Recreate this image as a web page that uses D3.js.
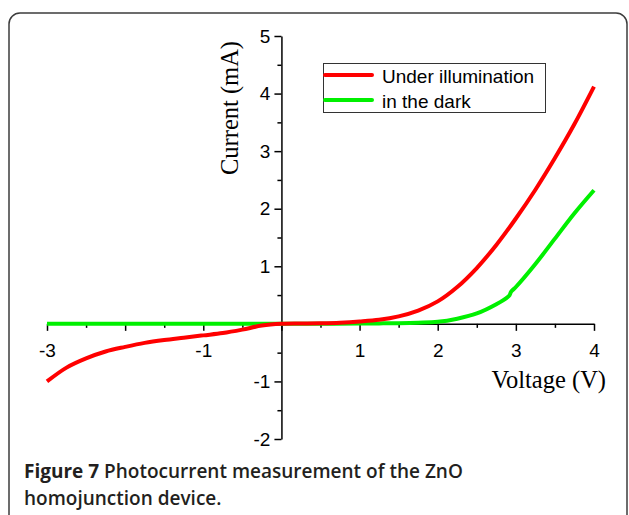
<!DOCTYPE html>
<html>
<head>
<meta charset="utf-8">
<script src="https://cdn.jsdelivr.net/npm/d3@7"></script>
<style>
  body { margin: 0; background: #fff; }
</style>
</head>
<body>
<div id="chart"></div>
<script>
// voltage points (V)
var voltage = [-3, -2.75, -2.5, -2.25, -2, -1.75, -1.5, -1.25, -1, -0.75, -0.5, -0.25, 0,
  0.25, 0.5, 0.75, 1, 1.25, 1.5, 1.75, 2, 2.25, 2.5, 2.75, 3, 3.25, 3.5, 3.75, 4];
// current under illumination (mA)
var currentLight = [-1.0, -0.76, -0.6, -0.48, -0.4, -0.33, -0.28, -0.24, -0.2, -0.16, -0.1, -0.03, 0,
  0.005, 0.01, 0.02, 0.04, 0.07, 0.13, 0.23, 0.39, 0.64, 0.97, 1.37, 1.83, 2.33, 2.88, 3.47, 4.12];
// dark current has a small kink near 2.9 V
var voltageDark = [-3, -2, -1, 0, 0.5, 1, 1.25, 1.5, 1.75, 2, 2.25, 2.5, 2.75, 2.9, 2.92, 2.94,
  3, 3.25, 3.5, 3.75, 4];
var currentDark = [0, 0, 0, 0, 0.002, 0.005, 0.008, 0.012, 0.02, 0.035, 0.09, 0.18, 0.34, 0.47, 0.5, 0.56,
  0.64, 1.04, 1.48, 1.92, 2.32];

var seriesNames = ["Under illumination", "in the dark"];
var xTickLabels = [-3, -1, 1, 2, 3, 4];
var yTickLabels = [-2, -1, 1, 2, 3, 4, 5];

var width = 629, height = 515;

var svg = d3.select("#chart")
  .append("svg")
  .attr("width", width)
  .attr("height", height);

// rounded figure frame (bottom runs off the page)
svg.append("rect")
  .attr("x", 9).attr("y", 13)
  .attr("width", 618).attr("height", 540)
  .attr("rx", 11)
  .attr("fill", "none")
  .attr("stroke", "#3c3c3c")
  .attr("stroke-width", 1.5);

var x = d3.scaleLinear().domain([-3, 4]).range([47, 594]);
var y = d3.scaleLinear().domain([-2, 5]).range([439, 36]);

var tickFont = "'Liberation Sans', Arial, sans-serif";

// X axis through y = 0
var xAxis = svg.append("g")
  .attr("transform", "translate(0," + y(0) + ")")
  .call(d3.axisBottom(x)
    .tickValues(d3.range(-3, 4.01, 0.5))
    .tickSize(7)
    .tickSizeOuter(0)
    .tickFormat(function (d) { return xTickLabels.indexOf(d) >= 0 ? String(d) : ""; }))
  .attr("font-size", 19)
  .attr("font-family", tickFont);
xAxis.selectAll(".tick line")
  .attr("y2", function (d) { return d % 1 === 0 ? 7 : 4; });
xAxis.selectAll(".tick text")
  .attr("y", 33).attr("dy", null)
  .attr("fill", "#000");

// Y axis through x = 0
var yAxis = svg.append("g")
  .attr("transform", "translate(" + x(0) + ",0)")
  .call(d3.axisLeft(y)
    .tickValues(d3.range(-2, 5.01, 0.5))
    .tickSize(7)
    .tickSizeOuter(0)
    .tickPadding(4)
    .tickFormat(function (d) { return yTickLabels.indexOf(d) >= 0 ? String(d) : ""; }))
  .attr("font-size", 19)
  .attr("font-family", tickFont);
yAxis.selectAll(".tick line")
  .attr("x2", function (d) { return d % 1 === 0 ? -7 : -4; });
yAxis.selectAll(".tick text")
  .attr("fill", "#000");

svg.selectAll(".domain, .tick line")
  .attr("stroke", "#000")
  .attr("stroke-width", 1.5);

// axis titles
svg.append("text")
  .attr("x", 606).attr("y", 388)
  .attr("text-anchor", "end")
  .style("font-family", "'Liberation Serif', 'Times New Roman', serif")
  .style("font-size", "24.5px")
  .text("Voltage (V)");

svg.append("text")
  .attr("transform", "translate(238,108) rotate(-90)")
  .attr("text-anchor", "middle")
  .style("font-family", "'Liberation Serif', 'Times New Roman', serif")
  .style("font-size", "24.5px")
  .text("Current (mA)");

// curves
var line = d3.line()
  .x(function (d) { return x(d[0]); })
  .y(function (d) { return y(d[1]); })
  .curve(d3.curveCatmullRom.alpha(0.5));

svg.append("path")
  .datum(d3.zip(voltageDark, currentDark))
  .attr("d", line)
  .attr("fill", "none")
  .attr("stroke", "rgb(0, 240, 0)")
  .attr("stroke-width", 4);

svg.append("path")
  .datum(d3.zip(voltage, currentLight))
  .attr("d", line)
  .attr("fill", "none")
  .attr("stroke", "rgb(255, 0, 0)")
  .attr("stroke-width", 4);

// legend
var colors = ["rgb(255, 0, 0)", "rgb(0, 240, 0)"];
svg.append("rect")
  .attr("x", 323.5).attr("y", 63.5)
  .attr("width", 222).attr("height", 49)
  .attr("fill", "#fff")
  .attr("stroke", "#333")
  .attr("stroke-width", 1);

var legend = svg.selectAll(".legendItem")
  .data(seriesNames)
  .enter().append("g")
  .attr("class", "legendItem")
  .attr("transform", function (d, i) { return "translate(325," + (75 + i * 25) + ")"; });
legend.append("line")
  .attr("x1", 0).attr("x2", 47)
  .attr("stroke", function (d, i) { return colors[i]; })
  .attr("stroke-width", 4)
  .attr("stroke-linecap", "round");
legend.append("text")
  .attr("x", 57).attr("y", 7.5)
  .style("font-family", tickFont)
  .style("font-size", "19px")
  .text(function (d) { return d; });

// caption
var captionFont = "'Open Sans', sans-serif";
var caption = svg.append("text")
  .attr("x", 24).attr("y", 478)
  .style("font-family", captionFont)
  .style("font-size", "19px")
  .attr("fill", "#231f20");
caption.append("tspan").style("font-weight", "bold").text("Figure 7");
caption.append("tspan").style("font-weight", 600).text(" Photocurrent measurement of the ZnO");
svg.append("text")
  .attr("x", 24).attr("y", 505)
  .style("font-family", captionFont)
  .style("font-size", "19px")
  .style("font-weight", 600)
  .attr("fill", "#231f20")
  .text("homojunction device.");
</script>
</body>
</html>
